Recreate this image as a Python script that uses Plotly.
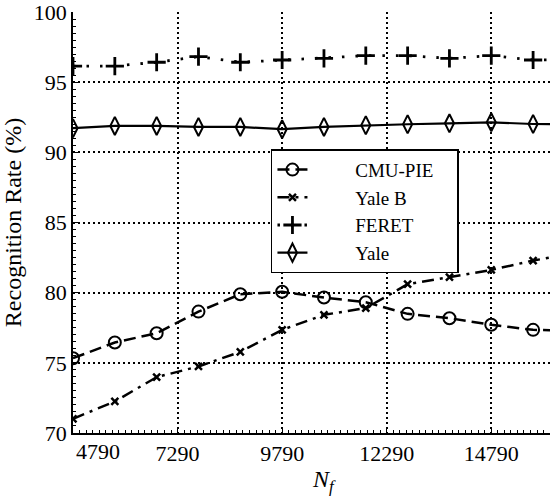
import plotly.graph_objects as go

nf = [4790, 5790, 6790, 7790, 8790, 9790, 10790, 11790, 12790, 13790, 14790, 15790, 16790]
cmu_pie = [75.33, 76.45, 77.11, 78.65, 79.89, 80.06, 79.65, 79.32, 78.49, 78.18, 77.71, 77.35, 77.3]
yale_b = [71.01, 72.25, 73.98, 74.74, 75.78, 77.35, 78.42, 78.9, 80.6, 81.1, 81.62, 82.29, 82.8]
feret = [96.15, 96.15, 96.42, 96.82, 96.42, 96.58, 96.70, 96.89, 96.89, 96.70, 96.89, 96.58, 96.6]
yale = [91.72, 91.88, 91.88, 91.81, 91.81, 91.65, 91.81, 91.93, 92.0, 92.07, 92.14, 92.02, 92.0]

x_ticks = [4790, 7290, 9790, 12290, 14790]
x_tick_text = ["4790", "7290", "9790", "12290", "14790"]
y_ticks = [70, 75, 80, 85, 90, 95, 100]

FONT = "Liberation Serif"
PAD = "\u00a0" * 9

fig = go.Figure()
fig.add_trace(go.Scatter(
    x=nf, y=cmu_pie, name=PAD + "CMU-PIE" + "\u00a0\u00a0\u00a0\u00a0", mode="lines+markers",
    line=dict(color="black", width=2.5, dash="12px,6px"),
    marker=dict(symbol="circle-open", size=12, color="black", line=dict(width=2))))
fig.add_trace(go.Scatter(
    x=nf, y=yale_b, name=PAD + "Yale B", mode="lines+markers",
    line=dict(color="black", width=2.5, dash="12px,6px,3px,6px"),
    marker=dict(symbol="x-thin-open", size=7, color="black", line=dict(width=2.5))))
fig.add_trace(go.Scatter(
    x=nf, y=feret, name=PAD + "FERET", mode="lines+markers",
    line=dict(color="black", width=2.8, dash="2.5px,11px"),
    marker=dict(symbol="cross-thin-open", size=13, color="black", line=dict(width=2.8))))
fig.add_trace(go.Scatter(
    x=nf, y=yale, name=PAD + "Yale", mode="lines+markers",
    line=dict(color="black", width=2.2, dash="solid"),
    marker=dict(symbol="diamond-tall-open", size=13, color="black", line=dict(width=2))))

# all tick labels but the first drawn by the axis; the first is shifted right as in the reference
axis_text = [""] + x_tick_text[1:]

fig.update_layout(
    width=550, height=496,
    margin=dict(l=73, r=0, t=12, b=63),
    paper_bgcolor="white", plot_bgcolor="white",
    font=dict(family=FONT, size=22, color="black"),
    showlegend=True,
    legend=dict(
        x=0.415, y=0.674, xanchor="left", yanchor="top",
        bgcolor="white", bordercolor="black", borderwidth=1.5,
        font=dict(family=FONT, size=19, color="black"),
        tracegroupgap=0,
    ),
    xaxis=dict(
        range=[4790, 16194],
        tickmode="array", tickvals=x_ticks, ticktext=axis_text,
        showgrid=True, gridcolor="black", griddash="1.5px,3.5px", gridwidth=1.5,
        showline=True, linecolor="black", linewidth=1.5,
        ticks="inside", ticklen=5, tickcolor="black",
        minor=dict(ticks="inside", ticklen=3, tickcolor="black", tick0=4790, dtick=156.25, showgrid=False),
        zeroline=False, ticklabeloverflow="allow",
        tickfont=dict(family=FONT, size=22),
    ),
    yaxis=dict(
        range=[69.999, 100.001],
        tickmode="array", tickvals=y_ticks,
        showgrid=True, gridcolor="black", griddash="1.5px,3.5px", gridwidth=1.5,
        showline=True, linecolor="black", linewidth=1.5,
        ticks="inside", ticklen=5, tickcolor="black",
        minor=dict(ticks="inside", ticklen=3, tickcolor="black", tick0=70, dtick=0.5, showgrid=False),
        zeroline=False, ticklabeloverflow="allow",
        tickfont=dict(family=FONT, size=22),
        title=dict(text="Recognition Rate (%)", font=dict(family=FONT, size=24), standoff=7),
    ),
)

fig.add_annotation(
    x=x_ticks[0], xref="x", y=0, yref="paper",
    text=x_tick_text[0], showarrow=False,
    font=dict(family=FONT, size=22, color="black"),
    xanchor="center", yanchor="top", xshift=25, yshift=-4,
)

fig.add_annotation(
    x=10790, xref="x", y=-0.115, yref="paper",
    text="<i>N</i><sub><i>f</i></sub>", showarrow=False,
    font=dict(family=FONT, size=24, color="black"),
    xanchor="center", yanchor="middle",
)

fig.write_html("out.html")
